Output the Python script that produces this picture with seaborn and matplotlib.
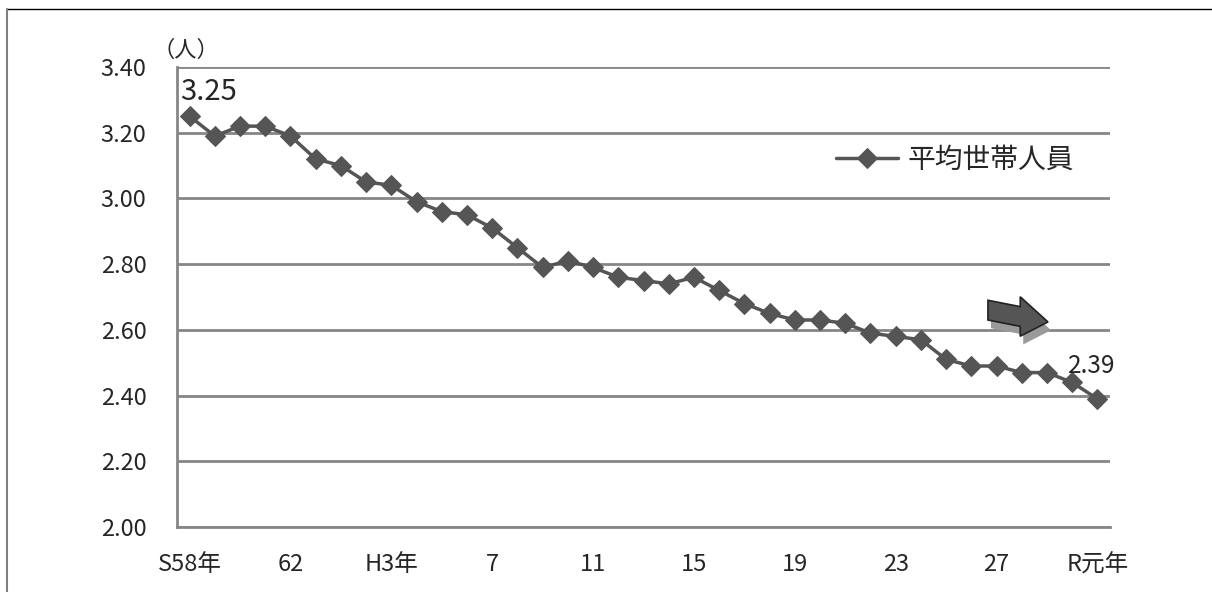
import numpy as np
import pandas as pd
import matplotlib
matplotlib.use("Agg")
import matplotlib.pyplot as plt
import seaborn as sns
from matplotlib.patches import FancyArrow
from matplotlib.lines import Line2D

# データ
years = ["S58年", "59", "60", "61", "62", "63", "H元年", "2", "H3年", "4", "5", "6",
         "7", "8", "9", "10", "11", "12", "13", "14", "15", "16", "17", "18",
         "19", "20", "21", "22", "23", "24", "25", "26", "27", "28", "29", "30", "R元年"]
household_size = [3.25, 3.19, 3.22, 3.22, 3.19, 3.12, 3.10, 3.05, 3.04, 2.99, 2.96, 2.95,
                  2.91, 2.85, 2.79, 2.81, 2.79, 2.76, 2.75, 2.74, 2.76, 2.72, 2.68, 2.65,
                  2.63, 2.63, 2.62, 2.59, 2.58, 2.57, 2.51, 2.49, 2.49, 2.47, 2.47, 2.44, 2.39]
series_name = "平均世帯人員"
y_ticks = [2.00, 2.20, 2.40, 2.60, 2.80, 3.00, 3.20, 3.40]

LINE_COLOR = "#555555"
GRID_COLOR = "#868686"

sns.set_theme(style="white")
plt.rcParams["font.family"] = ["Noto Sans CJK JP", "DejaVu Sans"]

df = pd.DataFrame({"idx": np.arange(len(years)), "value": household_size})

fig = plt.figure(figsize=(12.12, 5.92), dpi=100)
ax = fig.add_axes([177 / 1212, 1 - 527 / 592, 933 / 1212, 460 / 592])

sns.lineplot(data=df, x="idx", y="value", ax=ax, color=LINE_COLOR, linewidth=2.5,
             marker="D", markersize=10, markeredgecolor=LINE_COLOR, label=series_name)

ax.set_xlim(-0.5, len(years) - 0.5)
ax.set_ylim(y_ticks[0], y_ticks[-1])
ax.set_yticks(y_ticks)
ax.set_yticklabels([f"{v:.2f}" for v in y_ticks], fontsize=17)
ax.yaxis.grid(True, color=GRID_COLOR, linewidth=2)
ax.set_axisbelow(True)

# 目盛り
major = list(range(0, len(years), 4))
ax.set_xticks(major)
ax.set_xticklabels([years[i] for i in major], fontsize=17)
ax.set_xticks(np.arange(-0.5, len(years)), minor=True)
ax.tick_params(axis="x", which="major", length=0, pad=19)
ax.tick_params(axis="x", which="minor", length=6, width=1.5, color=GRID_COLOR, direction="out")
ax.tick_params(axis="y", length=6, width=1.5, color=GRID_COLOR, direction="out", pad=16)
ax.set_xlabel("")
ax.set_ylabel("")

for s in ["top", "right"]:
    ax.spines[s].set_visible(False)
for s in ["left", "bottom"]:
    ax.spines[s].set_color(GRID_COLOR)
    ax.spines[s].set_linewidth(2)

# データラベル
ax.annotate(f"{household_size[0]:.2f}", (0, household_size[0]), xytext=(-7, 7),
            textcoords="offset points", fontsize=21, ha="left", va="bottom")
ax.annotate(f"{household_size[-1]:.2f}", (len(years) - 1, household_size[-1]), xytext=(-4, 14),
            textcoords="offset points", fontsize=17.5, ha="center", va="bottom")

ax.text(0.01, 1.012, "（人）", transform=ax.transAxes, fontsize=16, ha="center", va="bottom")

# 凡例
leg = ax.legend(loc="upper left", bbox_to_anchor=(0.68, 0.885), frameon=False,
                fontsize=20, handlelength=2.2, handletextpad=0.35)

# 矢印
shadow = FancyArrow(31.78, 2.635, 2.38, -0.036, width=0.06, head_width=0.12, head_length=1.1,
                    length_includes_head=True, color="#9a9a9a", lw=0, transform=ax.transData)
ax.add_patch(shadow)
arrow = FancyArrow(31.66, 2.66, 2.38, -0.036, width=0.06, head_width=0.12, head_length=1.1,
                   length_includes_head=True, facecolor=LINE_COLOR, edgecolor="#222222",
                   lw=1.2, transform=ax.transData)
ax.add_patch(arrow)

# 枠線
fig.add_artist(Line2D([7 / 1212, 1], [1 - 9 / 592, 1 - 9 / 592], color="black", lw=1))
fig.add_artist(Line2D([7 / 1212, 7 / 1212], [0, 1 - 9 / 592], color="#808080", lw=1.5))

fig.savefig("out.png", dpi=100)
